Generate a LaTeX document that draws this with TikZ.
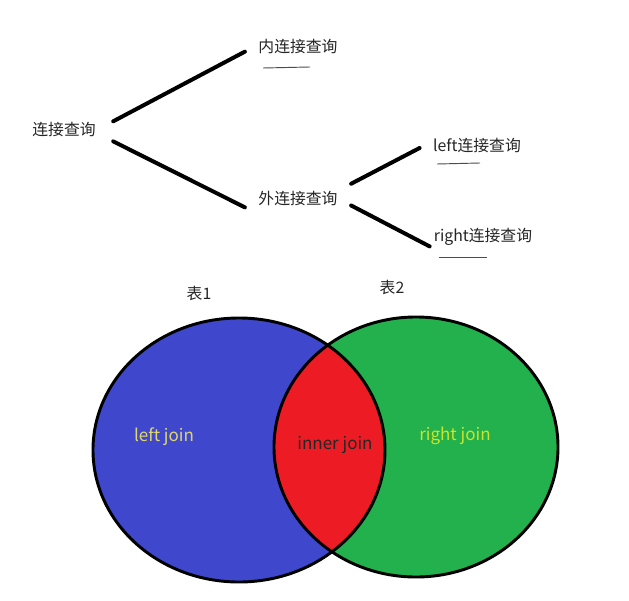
\documentclass[tikz,border=0pt]{standalone}
\usepackage{fontspec}
\usepackage{tikz}
\setmainfont{Noto Sans CJK SC}
\usetikzlibrary{calc}
\definecolor{paintblue}{RGB}{63,72,204}
\definecolor{paintgreen}{RGB}{34,177,76}
\definecolor{paintred}{RGB}{237,28,36}
\definecolor{joinyellow}{RGB}{222,214,110}
\definecolor{joinlime}{RGB}{205,228,40}
\tikzset{
    query/.style={
        inner ysep=0.3cm,
        inner xsep=0.4cm,
        font=\fontsize{13.5}{16}\selectfont,
        text=black!85
    },
    branch/.style={line width=3.4pt, line cap=round},
    uline/.style={line width=0.8pt, black!70},
    rim/.style={line width=2.5pt},
    venntext/.style={font=\fontsize{14.5}{17}\selectfont}
}

\begin{document}
\begin{tikzpicture}[x=0.03cm, y=-0.03cm]
    \useasboundingbox[fill=white] (0,0) rectangle (629,600);

    % join query tree
    \node (root) [query, inner xsep=0.52cm] at (64,130) {连接查询};
    \node (inner) [query] at (298,47) {内连接查询};
    \node (outer) [query] at (298,198) {外连接查询};
    \node (leftq) [query] at (477,146) {left连接查询};
    \node (rightq) [query, inner xsep=0.12cm] at (483,237) {right连接查询};

    \draw [branch] (root.10) -- (inner.185);
    \draw [branch] (root.-13) -- (outer.190);
    \draw [branch] (outer.15) -- (leftq.182);
    \draw [branch] (outer.-8) -- (rightq.190);

    \draw [uline] (263,68) -- (310,67);
    \draw [uline] (437,164) -- (480,163);
    \draw [uline] (439,257) -- (487,257);

    % tables
    \node (t1) [query] at (199,293) {表1};
    \node (t2) [query] at (392,287) {表2};

    \coordinate (c1) at (239,450);
    \coordinate (c2) at (416,447);
    \fill [paintblue] (c1) ellipse [x radius=4.38cm, y radius=3.96cm];
    \fill [paintgreen] (c2) ellipse [x radius=4.26cm, y radius=3.9cm];
    \begin{scope}
        \clip (c1) ellipse [x radius=4.38cm, y radius=3.96cm];
        \fill [paintred] (c2) ellipse [x radius=4.26cm, y radius=3.9cm];
    \end{scope}
    \draw [rim] (c1) ellipse [x radius=4.38cm, y radius=3.96cm];
    \draw [rim] (c2) ellipse [x radius=4.26cm, y radius=3.9cm];

    \node (leftj) [venntext, text=joinyellow] at (164,437) {left join};
    \node (innerj) [venntext, text=black!85] at (335,445) {inner join};
    \node (rightj) [venntext, text=joinlime] at (455,436) {right join};
\end{tikzpicture}
\end{document}
